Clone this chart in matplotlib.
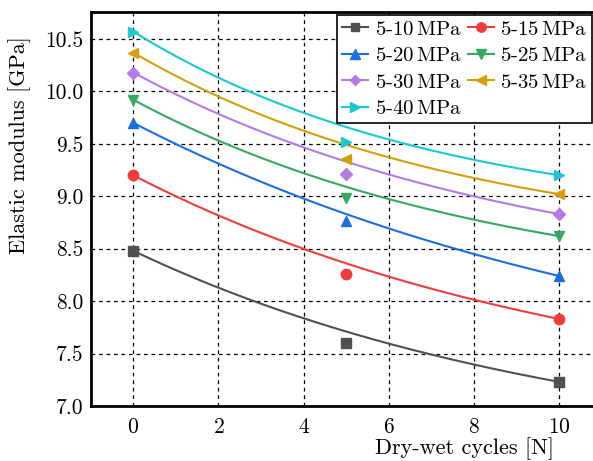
import numpy as np
import matplotlib
matplotlib.use("Agg")
import matplotlib.pyplot as plt
from matplotlib.lines import Line2D

plt.rcParams['font.family'] = 'cmr10'
plt.rcParams['mathtext.fontset'] = 'cm'
plt.rcParams['axes.formatter.use_mathtext'] = True
plt.rcParams['axes.unicode_minus'] = False

# dry-wet cycles
cycles = [0, 5, 10]

# measured elastic modulus [GPa]
labels = ['5-10$\\,$MPa', '5-15$\\,$MPa', '5-20$\\,$MPa', '5-25$\\,$MPa',
          '5-30$\\,$MPa', '5-35$\\,$MPa', '5-40$\\,$MPa']
e_510 = [8.48, 7.60, 7.23]
e_515 = [9.20, 8.26, 7.83]
e_520 = [9.70, 8.76, 8.24]
e_525 = [9.92, 8.98, 8.62]
e_530 = [10.18, 9.21, 8.83]
e_535 = [10.37, 9.36, 9.02]
e_540 = [10.57, 9.52, 9.20]

# fitted curve values read at 0, 5 and 10 cycles
fit_510 = [8.48, 7.71, 7.23]
fit_515 = [9.20, 8.36, 7.83]
fit_520 = [9.70, 8.83, 8.24]
fit_525 = [9.92, 9.09, 8.62]
fit_530 = [10.18, 9.33, 8.83]
fit_535 = [10.37, 9.49, 9.02]
fit_540 = [10.57, 9.66, 9.20]

series = [e_510, e_515, e_520, e_525, e_530, e_535, e_540]
fits = [fit_510, fit_515, fit_520, fit_525, fit_530, fit_535, fit_540]
colors = ['#505050', '#f03c3c', '#1a6ee0', '#35a862', '#b37be6', '#d4a00a', '#1ac8d0']
markers = ['s', 'o', '^', 'v', 'D', '<', '>']
msizes = [7, 7.5, 7.5, 7.5, 6, 7.5, 7.5]


def exp_curve(f, x):
    # y = c + A*exp(-k x) passing through the three fit values
    y0, y5, y10 = f
    r = (y5 - y10) / (y0 - y5)
    k = -np.log(r) / 5
    A = (y0 - y5) / (1 - r)
    c = y0 - A
    return c + A * np.exp(-k * x)


fig = plt.figure(figsize=(5.93, 4.61), dpi=100)
ax = fig.add_axes([90.7 / 593, 55 / 461, 506.3 / 593, 394 / 461])

xs = np.linspace(0, 10, 200)
handles = []
for ys, f, c, m, ms, lab in zip(series, fits, colors, markers, msizes, labels):
    ax.plot(xs, exp_curve(f, xs), color=c, lw=1.5, zorder=2)
    ax.plot(cycles, ys, ls='none', marker=m, ms=ms, color=c, zorder=3)
    handles.append(Line2D([], [], color=c, lw=1.5, marker=m, ms=ms * 0.9, label=lab))

ax.set_xlim(-1, 10.89)
ax.set_ylim(7.0, 10.757)
ax.set_xticks([0, 2, 4, 6, 8, 10])
ax.set_yticks([7.0, 7.5, 8.0, 8.5, 9.0, 9.5, 10.0, 10.5])
ax.set_yticklabels(['7.0', '7.5', '8.0', '8.5', '9.0', '9.5', '10.0', '10.5'])
ax.tick_params(labelsize=15.5, length=0)
ax.tick_params(axis='x', pad=8)
ax.tick_params(axis='y', pad=5)
ax.grid(True, ls=(0, (3, 3)), color='black', lw=0.9)
for s in ax.spines.values():
    s.set_linewidth(2)

ax.set_xlabel('Dry-wet cycles [N]', fontsize=16)
ax.xaxis.set_label_coords(0.738, -0.08)
ax.set_ylabel('Elastic modulus [GPa]', fontsize=16)
ax.yaxis.set_label_coords(-0.118, 0.662)

# row-wise order in a 2-column legend
order = [0, 2, 4, 6, 1, 3, 5]
leg = ax.legend(handles=[handles[i] for i in order], loc='upper right',
                bbox_to_anchor=(592 / 593, 446 / 461), bbox_transform=fig.transFigure,
                ncol=2, fontsize=15, fancybox=False, framealpha=1, edgecolor='black',
                borderaxespad=0, columnspacing=0.3, handlelength=1.25,
                handletextpad=0.3, labelspacing=0.38, borderpad=0.25)
leg.get_frame().set_linewidth(1.2)

fig.savefig('out.png', dpi=100)
